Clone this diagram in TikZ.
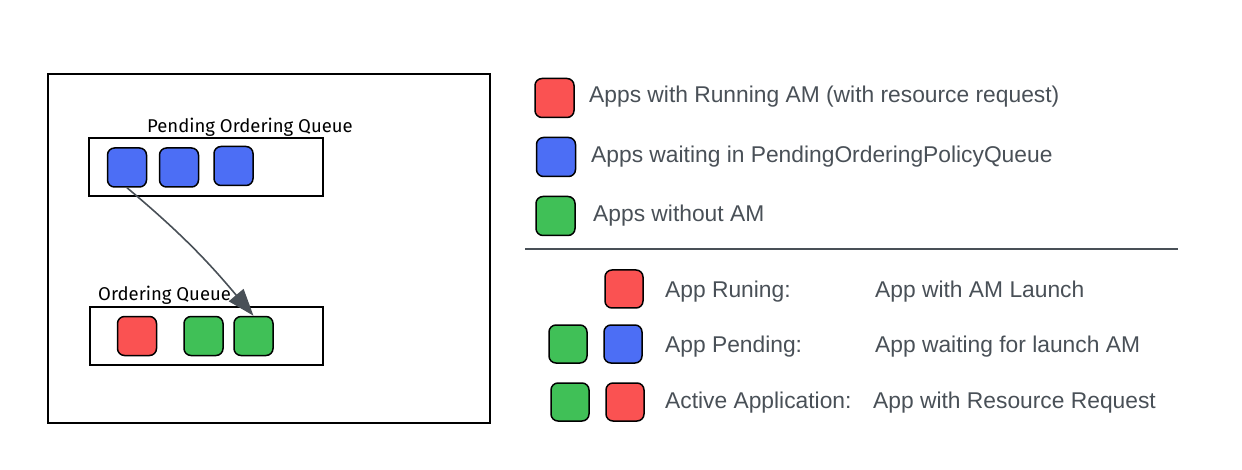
\documentclass[tikz,border=0pt]{standalone}
\usepackage{fontspec}
\setmainfont{Liberation Sans}
\newfontfamily\handfont{Fira Sans}
\usetikzlibrary{arrows.meta}
\definecolor{xred}{HTML}{FA5252}
\definecolor{xblue}{HTML}{4C6EF5}
\definecolor{xgreen}{HTML}{40C057}
\definecolor{txt}{HTML}{495057}
\tikzset{
  app/.style={draw=black, line width=1.5pt, rounded corners=7pt, minimum width=39pt, minimum height=39pt, inner sep=0pt},
  redapp/.style={app, fill=xred},
  blueapp/.style={app, fill=xblue},
  greenapp/.style={app, fill=xgreen},
  frame/.style={draw=black, line width=1.5pt, inner sep=0pt},
  handlabel/.style={font=\handfont\fontsize{18.5}{22}\selectfont, text=black, inner sep=0pt},
  legtext/.style={font=\fontsize{22.8}{27}\selectfont, text=txt, inner sep=0pt, anchor=west},
  flow/.style={draw=txt, line width=1.6pt, -{Triangle[length=27pt,width=19pt]}},
}
\begin{document}
\begin{tikzpicture}[x=1pt,y=1pt]
\useasboundingbox (0,0) rectangle (1242,-470);
% outer frame
\node[frame, minimum width=442pt, minimum height=349pt] (outer) at (269,-248.5) {};
% queues
\node[frame, minimum width=234pt, minimum height=58pt] (pq) at (206,-167) {};
\node[frame, minimum width=233pt, minimum height=58pt] (oq) at (206.5,-336) {};
\node[handlabel, anchor=west] (pql) at (147,-127) {Pending Ordering Queue};
\node[handlabel, anchor=west] (oql) at (98,-295) {Ordering Queue};
% apps in queues
\node[blueapp] (b1) at (127,-167.5) {};
\node[blueapp] (b2) at (179,-167.5) {};
\node[blueapp] (b3) at (233.5,-166) {};
\node[redapp] (r1) at (137,-336) {};
\node[greenapp] (g1) at (203.5,-336) {};
\node[greenapp] (g2) at (253.5,-336) {};
\draw[flow] (b1.south) to[out=-40, in=130] (g2.north);
% legend
\node[redapp] (l1) at (554.5,-98) {};
\node[blueapp] (l2) at (556,-157) {};
\node[greenapp] (l3) at (555.5,-216) {};
\node[legtext] (t1) at (589,-97) {Apps with Running AM (with resource request)};
\node[legtext] (t2) at (591,-157) {Apps waiting in PendingOrderingPolicyQueue};
\node[legtext] (t3) at (593,-216) {Apps without AM};
\coordinate (sepl) at (525,-249);
\coordinate (sepr) at (1178,-249);
\draw[draw=txt, line width=1.2pt] (sepl) -- (sepr);
\node[redapp, minimum width=38pt, minimum height=38pt] (s1) at (624,-289) {};
\node[greenapp, minimum width=38pt, minimum height=38pt] (s2a) at (568,-344) {};
\node[blueapp, minimum width=38pt, minimum height=38pt] (s2b) at (623,-344) {};
\node[greenapp, minimum width=38pt, minimum height=38pt] (s3a) at (570,-402) {};
\node[redapp, minimum width=38pt, minimum height=38pt] (s3b) at (625,-402) {};
\node[legtext] (k1) at (665,-292) {App Runing:};
\node[legtext] (k2) at (665,-347) {App Pending:};
\node[legtext] (k3) at (665,-403) {Active Application:};
\node[legtext] (v1) at (875,-292) {App with AM Launch};
\node[legtext] (v2) at (875,-347) {App waiting for launch AM};
\node[legtext] (v3) at (873,-403) {App with Resource Request};
\end{tikzpicture}
\end{document}
